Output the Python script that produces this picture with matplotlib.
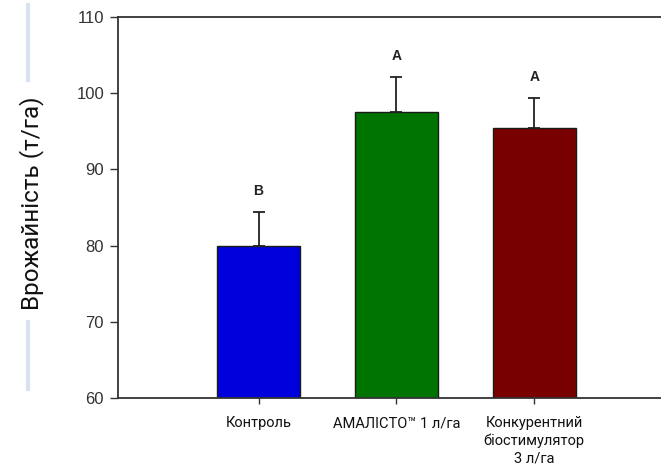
import matplotlib
matplotlib.use("Agg")
import matplotlib.pyplot as plt
from matplotlib.lines import Line2D

# дані
categories = ["Контроль", "АМАЛІСТО™ 1 л/га", "Конкурентний\nбіостимулятор\n3 л/га"]
yields = [80.0, 97.5, 95.4]
errors = [4.4, 4.6, 4.0]
letters = ["B", "A", "A"]
colors = ["#0000DC", "#007400", "#780000"]


def main():
    fig = plt.figure(figsize=(6.61, 4.69), dpi=100)
    ax = fig.add_axes([0.1785, 0.1514, 0.8215, 0.8124])

    x = list(range(len(categories)))
    ax.bar(x, yields, width=0.6, color=colors, edgecolor="#1a1a1a", linewidth=1.0,
           yerr=[[0] * len(errors), errors], capsize=4.5,
           error_kw=dict(ecolor="#222222", elinewidth=1.3, capthick=1.3))

    for i in x:
        ax.text(i, yields[i] + errors[i] + 2.75, letters[i], ha="center", va="center",
                fontsize=10, fontweight="bold", color="#222222", family="Liberation Sans")

    ax.set_ylim(60, 110)
    ax.set_xlim(-1.02, 2.92)
    ax.set_yticks([60, 70, 80, 90, 100, 110])
    ax.set_xticks(x)
    ax.set_xticklabels(categories, fontsize=10.5, family="Roboto", color="#111111",
                       linespacing=1.3)
    for lab in ax.get_yticklabels():
        lab.set_family("Liberation Sans")
        lab.set_fontsize(12)
        lab.set_color("#333333")
    ax.tick_params(axis="y", length=6, width=1.0, color="#333333", pad=4)
    ax.tick_params(axis="x", length=4, width=1.0, color="#333333", pad=9)

    for s in ["left", "top", "bottom"]:
        ax.spines[s].set_color("#333333")
        ax.spines[s].set_linewidth(1.3)
    ax.spines["right"].set_visible(False)

    fig.text(0.047, 0.567, "Врожайність (т/га)", rotation=90, ha="center", va="center",
             fontsize=17.5, family="Roboto", color="#111111")

    # декоративні лінії біля підпису осі
    fig.add_artist(Line2D([0.042, 0.042], [1 - 5 / 469, 1 - 80 / 469],
                          color="#d8e3f1", linewidth=3))
    fig.add_artist(Line2D([0.042, 0.042], [1 - 322 / 469, 1 - 389 / 469],
                          color="#d8e3f1", linewidth=3))

    fig.savefig("out.png", dpi=100)


if __name__ == '__main__':
    main()
